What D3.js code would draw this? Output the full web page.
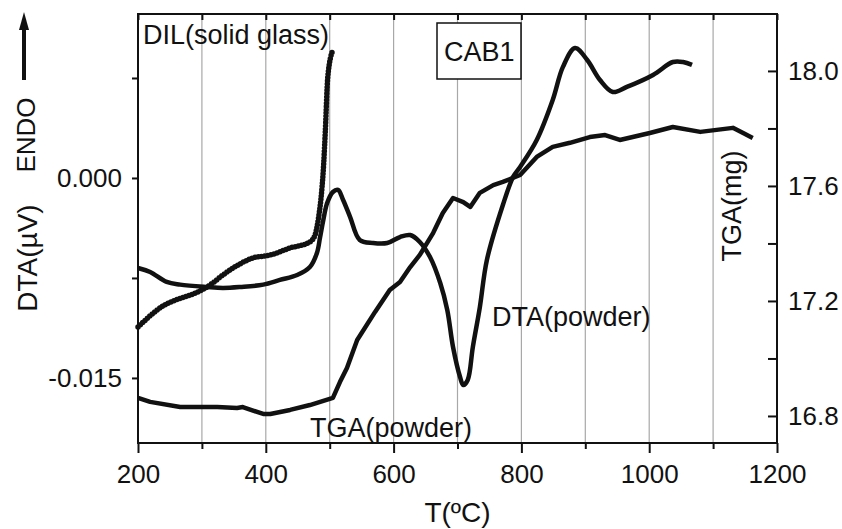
<!DOCTYPE html>
<html>
<head>
<meta charset="utf-8">
<script src="https://cdn.jsdelivr.net/npm/d3@7/dist/d3.min.js"></script>
<style>
  html, body { margin: 0; padding: 0; background: #fff; }
  svg { display: block; }
  text { font-family: "Liberation Sans", Arial, sans-serif; fill: #111; }
</style>
</head>
<body>
<svg id="chart" width="842" height="529"></svg>
<script>
// ---------- data ----------
const xTicks = [200, 400, 600, 800, 1000, 1200];
const xMinorTicks = [300, 500, 700, 900, 1100];
const gridTicks = [300, 400, 500, 600, 700, 800, 900, 1000, 1100];
const leftTicks = [-0.015, 0.0];
const leftTickLabels = ["-0.015", "0.000"];
const leftMinorTicks = [-0.0075, 0.0075];
const rightTicks = [16.8, 17.2, 17.6, 18.0];
const rightTickLabels = ["16.8", "17.2", "17.6", "18.0"];
const rightMinorTicks = [17.0, 17.4, 17.8];

// DTA(powder), left axis (µV)
const dtaT = [200,219,245,266,308,333,360,396,422,449,469,480,485,490,496,505,513,521,532,547,568,590,610,626,641,657,673,684,693,704,709,716,724,735,746,771,787,798,824,849,865,884,903,923,943,965,1006,1037,1053,1067];
const dtaV = [-0.00675,-0.00705,-0.0078,-0.0080,-0.00818,-0.00825,-0.00818,-0.0080,-0.00765,-0.00728,-0.00668,-0.00563,-0.00443,-0.00315,-0.00188,-0.00105,-0.0009,-0.00165,-0.00293,-0.00465,-0.00488,-0.00488,-0.00443,-0.00428,-0.0048,-0.00593,-0.00788,-0.0099,-0.01268,-0.01493,-0.01553,-0.01515,-0.01268,-0.00968,-0.00615,-0.00203,0.00008,0.00083,0.00285,0.00585,0.00833,0.00975,0.00885,0.00735,0.00645,0.00683,0.00773,0.0087,0.0087,0.00848];

// DIL(solid glass), drawn against the left axis
const dilT = [200,230,308,344,380,407,438,469,477,482,488,490,493,497,505];
const dilV = [-0.01118,-0.0099,-0.00818,-0.0069,-0.0060,-0.00578,-0.00525,-0.0048,-0.00428,-0.00315,-0.00068,0.0006,0.00338,0.00758,0.0096];

// TGA(powder), right axis (mg)
const tgaT = [200,219,266,324,355,364,396,407,438,469,505,516,527,543,571,594,610,626,641,662,677,693,709,720,735,756,771,798,824,849,876,907,931,954,1001,1037,1080,1131,1147,1162];
const tgaM = [16.863,16.849,16.831,16.831,16.828,16.831,16.807,16.807,16.821,16.838,16.863,16.918,16.967,17.064,17.162,17.238,17.266,17.318,17.360,17.437,17.506,17.558,17.544,17.527,17.576,17.603,17.614,17.638,17.701,17.736,17.750,17.770,17.777,17.760,17.784,17.805,17.788,17.802,17.784,17.767];

// ---------- layout ----------
const W = 842, H = 529;
const L = 138, R = 777, T = 14, B = 443;
const svg = d3.select("#chart");

const x = d3.scaleLinear().domain([200, 1200]).range([L, R]);
const yL = d3.scaleLinear().domain([-0.01988, 0.0123]).range([B, T]);
const yR = d3.scaleLinear().domain([16.706, 18.198]).range([B, T]);

// grid
svg.append("g").selectAll("line").data(gridTicks).join("line")
  .attr("x1", d => x(d)).attr("x2", d => x(d))
  .attr("y1", T).attr("y2", B)
  .attr("stroke", "#a8a8a8").attr("stroke-width", 1.2);

// axes
const fontSize = 26;
function styleAxis(g) {
  g.select(".domain").remove();
  g.selectAll("line").attr("stroke", "#111").attr("stroke-width", 2);
  g.selectAll("text").style("font-size", fontSize + "px").attr("fill", "#111");
}

svg.append("g").attr("transform", `translate(0,${B})`)
  .call(d3.axisBottom(x).tickValues(xTicks).tickSize(10).tickPadding(12).tickFormat(d3.format("d")))
  .call(styleAxis);
svg.append("g").attr("transform", `translate(0,${B})`)
  .call(d3.axisBottom(x).tickValues(xMinorTicks).tickSize(6).tickFormat(""))
  .call(styleAxis);
svg.append("g").attr("transform", `translate(0,${T})`)
  .call(d3.axisTop(x).tickValues(xTicks.concat(xMinorTicks)).tickSize(-6).tickFormat(""))
  .call(styleAxis);

svg.append("g").attr("transform", `translate(${L},0)`)
  .call(d3.axisLeft(yL).tickValues(leftTicks).tickSize(6).tickPadding(10)
    .tickFormat((d, i) => leftTickLabels[i]))
  .call(styleAxis);
svg.append("g").attr("transform", `translate(${L},0)`)
  .call(d3.axisLeft(yL).tickValues(leftMinorTicks).tickSize(6).tickFormat(""))
  .call(styleAxis);

svg.append("g").attr("transform", `translate(${R},0)`)
  .call(d3.axisRight(yR).tickValues(rightTicks).tickSizeInner(-9).tickSizeOuter(0).tickPadding(11)
    .tickFormat((d, i) => rightTickLabels[i]))
  .call(styleAxis);
svg.append("g").attr("transform", `translate(${R},0)`)
  .call(d3.axisRight(yR).tickValues(rightMinorTicks).tickSizeInner(-9).tickSizeOuter(0).tickFormat(""))
  .call(styleAxis);

// frame
svg.append("rect").attr("x", L).attr("y", T).attr("width", R - L).attr("height", B - T)
  .attr("fill", "none").attr("stroke", "#111").attr("stroke-width", 2);

// curves
const dtaData = dtaT.map((t, i) => [t, dtaV[i]]);
const dilData = dilT.map((t, i) => [t, dilV[i]]);
const tgaData = tgaT.map((t, i) => [t, tgaM[i]]);

svg.append("path").datum(tgaData)
  .attr("d", d3.line().x(d => x(d[0])).y(d => yR(d[1])).curve(d3.curveLinear))
  .attr("fill", "none").attr("stroke", "#111").attr("stroke-width", 4.5).attr("stroke-linejoin", "round");

svg.append("path").datum(dilData)
  .attr("d", d3.line().x(d => x(d[0])).y(d => yL(d[1])).curve(d3.curveMonotoneX))
  .attr("fill", "none").attr("stroke", "#111").attr("stroke-width", 5.5)
  .attr("stroke-linecap", "round").attr("stroke-dasharray", "0 3.2");

svg.append("path").datum(dtaData)
  .attr("d", d3.line().x(d => x(d[0])).y(d => yL(d[1])).curve(d3.curveCatmullRom.alpha(0.5)))
  .attr("fill", "none").attr("stroke", "#111").attr("stroke-width", 4.5).attr("stroke-linejoin", "round");

// annotations
function label(txt, px, py, size) {
  return svg.append("text").attr("x", px).attr("y", py).style("font-size", (size || 27) + "px").text(txt);
}
label("DIL(solid glass)", 143, 44);
label("DTA(powder)", 492, 326);
label("TGA(powder)", 310, 437);
svg.append("rect").attr("x", 437).attr("y", 23).attr("width", 84).attr("height", 56)
  .attr("fill", "#fff").attr("stroke", "#111").attr("stroke-width", 1.5);
label("CAB1", 444, 61);

// axis titles
svg.append("text").attr("x", x(700)).attr("y", 522).attr("text-anchor", "middle")
  .style("font-size", "28px").text("T(ºC)");
svg.append("text").attr("transform", "translate(37,258) rotate(-90)").attr("text-anchor", "middle")
  .style("font-size", "28px").text("DTA(µV)");
svg.append("text").attr("transform", "translate(35,135) rotate(-90)").attr("text-anchor", "middle")
  .style("font-size", "26px").text("ENDO");
svg.append("text").attr("transform", "translate(741,206) rotate(-90)").attr("text-anchor", "middle")
  .style("font-size", "27px").text("TGA(mg)");

// ENDO arrow
svg.append("line").attr("x1", 24).attr("x2", 24).attr("y1", 80).attr("y2", 26)
  .attr("stroke", "#111").attr("stroke-width", 4);
svg.append("path").attr("d", "M24,12 L19,30 L29,30 Z").attr("fill", "#111");
</script>
</body>
</html>
